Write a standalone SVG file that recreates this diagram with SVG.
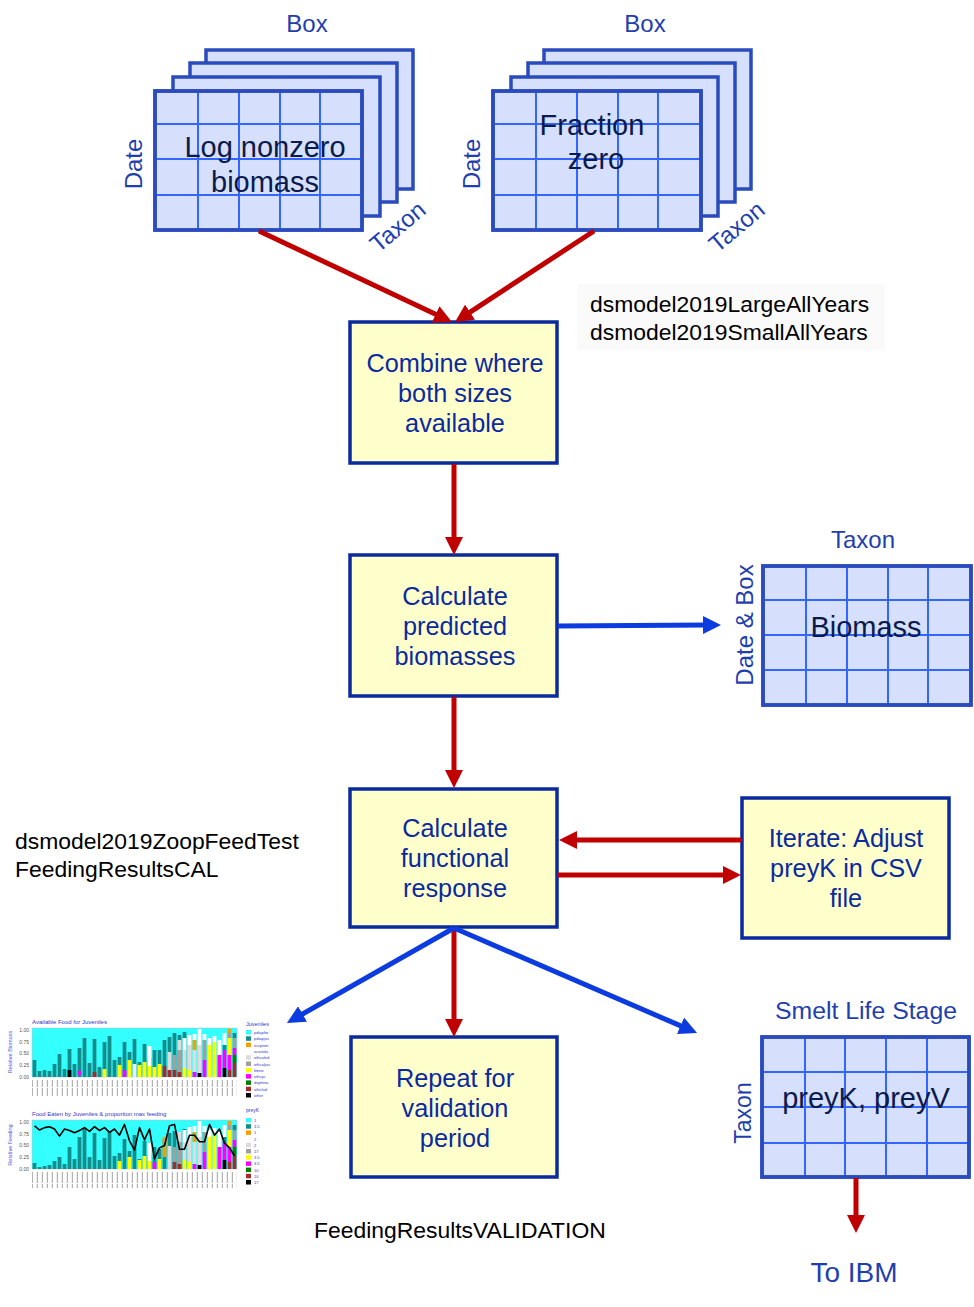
<svg xmlns="http://www.w3.org/2000/svg" width="974" height="1307" viewBox="0 0 974 1307">
<style>
text{font-family:"Liberation Sans",Arial,sans-serif}
.sheet{fill:#d6dffb;stroke:#2a4bbd;stroke-width:3.5}
.grid{stroke:#3366ff;stroke-width:2;fill:none}
.proc{fill:#ffffcc;stroke:#0a2a9e;stroke-width:3.5}
.ptxt{font-size:25.3px;fill:#0a2a9e;text-anchor:middle}
.lbl{font-size:24px;fill:#1f3fae;text-anchor:middle}
.gtxt{font-size:29px;fill:#0b1a4d;text-anchor:middle}
.note{font-size:22.9px;fill:#000}
.red{stroke:#c00000;stroke-width:5;fill:none;marker-end:url(#ar)}
.blue{stroke:#0c3ce0;stroke-width:5;fill:none;marker-end:url(#ab)}
.tk{font-size:5px;fill:#555;text-anchor:end}
.lg{font-size:4px;fill:#3333cc}
.ct{font-size:6px;fill:#3333cc}
.ax{font-size:5.5px;fill:#5555dd;text-anchor:middle}
</style>
<defs>
<marker id="ar" markerUnits="userSpaceOnUse" markerWidth="18" markerHeight="18" refX="4" refY="9" orient="auto"><path d="M0,0 L18,9 L0,18 z" fill="#c00000"/></marker>
<marker id="ab" markerUnits="userSpaceOnUse" markerWidth="18" markerHeight="18" refX="4" refY="9" orient="auto"><path d="M0,0 L18,9 L0,18 z" fill="#0c3ce0"/></marker>
<pattern id="ticks" width="5" height="16" patternUnits="userSpaceOnUse"><rect x="1.8" y="0" width="1.1" height="15" fill="#aaa"/></pattern>
<g id="rstack">
<rect x="172.6" y="1070" width="3.8" height="7" fill="#a52a2a"/><rect x="172.6" y="1055" width="3.8" height="15" fill="#a0a0a0"/>
<rect x="177.6" y="1072" width="3.8" height="5" fill="#a52a2a"/><rect x="177.6" y="1050" width="3.8" height="22" fill="#a0a0a0"/><rect x="177.6" y="1040" width="3.8" height="10" fill="#dcdcdc"/>
<rect x="182.6" y="1068" width="3.8" height="9" fill="#ffff00"/><rect x="182.6" y="1050" width="3.8" height="18" fill="#dcdcdc"/><rect x="182.6" y="1038" width="3.8" height="12" fill="#fff"/>
<rect x="187.6" y="1070" width="3.8" height="7" fill="#ffff00"/><rect x="187.6" y="1045" width="3.8" height="25" fill="#dcdcdc"/><rect x="187.6" y="1035" width="3.8" height="10" fill="#fff"/>
<rect x="192.6" y="1072" width="3.8" height="5" fill="#ff00ff"/><rect x="192.6" y="1050" width="3.8" height="22" fill="#dcdcdc"/><rect x="192.6" y="1040" width="3.8" height="10" fill="#f5a000"/><rect x="192.6" y="1034" width="3.8" height="6" fill="#fff"/>
<rect x="197.6" y="1073" width="3.8" height="4" fill="#000"/><rect x="197.6" y="1045" width="3.8" height="28" fill="#dcdcdc"/><rect x="197.6" y="1029" width="3.8" height="16" fill="#fff"/>
<rect x="202.6" y="1060" width="3.8" height="17" fill="#ff00ff"/><rect x="202.6" y="1040" width="3.8" height="20" fill="#a0a0a0"/><rect x="202.6" y="1034" width="3.8" height="6" fill="#fff"/>
<rect x="207.6" y="1045" width="3.8" height="32" fill="#ffff00"/><rect x="207.6" y="1038" width="3.8" height="7" fill="#fff"/>
<rect x="212.6" y="1042" width="3.8" height="35" fill="#ffff00"/><rect x="212.6" y="1036" width="3.8" height="6" fill="#fff"/>
<rect x="217.6" y="1055" width="3.8" height="22" fill="#ff00ff"/><rect x="217.6" y="1040" width="3.8" height="15" fill="#fff"/>
<rect x="222.6" y="1068" width="3.8" height="9" fill="#000"/><rect x="222.6" y="1050" width="3.8" height="18" fill="#ff00ff"/><rect x="222.6" y="1045" width="3.8" height="5" fill="#138c8c"/><rect x="222.6" y="1033" width="3.8" height="12" fill="#fff"/>
<rect x="227.6" y="1070" width="3.8" height="7" fill="#a52a2a"/><rect x="227.6" y="1055" width="3.8" height="15" fill="#ff00ff"/><rect x="227.6" y="1038" width="3.8" height="17" fill="#ffff00"/><rect x="227.6" y="1033" width="3.8" height="5" fill="#a0a0a0"/><rect x="227.6" y="1029" width="3.8" height="4" fill="#f5a000"/>
<rect x="232.6" y="1063" width="3.8" height="14" fill="#a52a2a"/><rect x="232.6" y="1055" width="3.8" height="8" fill="#008000"/><rect x="232.6" y="1048" width="3.8" height="7" fill="#ff00ff"/><rect x="232.6" y="1038" width="3.8" height="10" fill="#a0a0a0"/><rect x="232.6" y="1033" width="3.8" height="5" fill="#138c8c"/>
</g>
</defs>
<rect width="974" height="1307" fill="#fff"/>

<g id="stack-log">
<text class="lbl" x="307" y="32">Box</text>
<rect class="sheet" x="206" y="50" width="207" height="139"/>
<rect class="sheet" x="190" y="63" width="207" height="139"/>
<rect class="sheet" x="173" y="77" width="207" height="139"/>
<rect class="sheet" x="155" y="91" width="207" height="139"/>
<path class="grid" d="M198,92V229M239,92V229M280,92V229M320,92V229M156,124H361M156,159H361M156,195H361"/>
<rect x="155" y="91" width="207" height="139" fill="none" stroke="#2a4bbd" stroke-width="3.5"/>
<text class="lbl" transform="translate(142,164) rotate(-90)">Date</text>
<text class="lbl" transform="translate(403,233) rotate(-40)">Taxon</text>
<text class="gtxt" x="265" y="157">Log nonzero</text>
<text class="gtxt" x="265" y="192">biomass</text>
</g>

<g id="stack-frac">
<text class="lbl" x="645" y="32">Box</text>
<rect class="sheet" x="544" y="50" width="207" height="139"/>
<rect class="sheet" x="528" y="63" width="207" height="139"/>
<rect class="sheet" x="511" y="77" width="207" height="139"/>
<rect class="sheet" x="493" y="91" width="208" height="139"/>
<path class="grid" d="M536,92V229M577,92V229M618,92V229M658,92V229M494,124H700M494,159H700M494,195H700"/>
<rect x="493" y="91" width="208" height="139" fill="none" stroke="#2a4bbd" stroke-width="3.5"/>
<text class="lbl" transform="translate(480,164) rotate(-90)">Date</text>
<text class="lbl" transform="translate(742,233) rotate(-40)">Taxon</text>
<text class="gtxt" x="592" y="135">Fraction</text>
<text class="gtxt" x="596" y="169">zero</text>
</g>

<g id="note-allyears">
<rect x="577" y="284" width="308" height="66" fill="#fafafa"/>
<text class="note" x="590" y="312">dsmodel2019LargeAllYears</text>
<text class="note" x="590" y="340">dsmodel2019SmallAllYears</text>
</g>

<g id="combine">
<rect class="proc" x="350" y="322" width="207" height="141"/>
<text class="ptxt" x="455" y="372">Combine where</text>
<text class="ptxt" x="455" y="402">both sizes</text>
<text class="ptxt" x="455" y="432">available</text>
</g>

<g id="predicted">
<rect class="proc" x="350" y="555" width="207" height="141"/>
<text class="ptxt" x="455" y="605">Calculate</text>
<text class="ptxt" x="455" y="635">predicted</text>
<text class="ptxt" x="455" y="665">biomasses</text>
</g>

<g id="biomass-grid">
<text class="lbl" x="863" y="548">Taxon</text>
<rect class="sheet" x="763" y="566" width="208" height="139"/>
<path class="grid" d="M806,567V704M847,567V704M888,567V704M928,567V704M764,600H970M764,635H970M764,670H970"/>
<rect x="763" y="566" width="208" height="139" fill="none" stroke="#2a4bbd" stroke-width="3.5"/>
<text class="lbl" transform="translate(753,625) rotate(-90)">Date &amp; Box</text>
<text class="gtxt" x="866" y="637">Biomass</text>
</g>

<g id="functional">
<rect class="proc" x="350" y="789" width="207" height="138"/>
<text class="ptxt" x="455" y="837">Calculate</text>
<text class="ptxt" x="455" y="867">functional</text>
<text class="ptxt" x="455" y="897">response</text>
</g>

<g id="note-zoopfeed">
<text class="note" x="15" y="849">dsmodel2019ZoopFeedTest</text>
<text class="note" x="15" y="877">FeedingResultsCAL</text>
</g>

<g id="iterate">
<rect class="proc" x="742" y="798" width="207" height="140"/>
<text class="ptxt" x="846" y="847">Iterate: Adjust</text>
<text class="ptxt" x="846" y="877">preyK in CSV</text>
<text class="ptxt" x="846" y="907">file</text>
</g>

<g id="repeat">
<rect class="proc" x="351" y="1037" width="206" height="140"/>
<text class="ptxt" x="455" y="1087">Repeat for</text>
<text class="ptxt" x="455" y="1117">validation</text>
<text class="ptxt" x="455" y="1147">period</text>
</g>

<g id="note-validation">
<text class="note" x="314" y="1238">FeedingResultsVALIDATION</text>
</g>

<g id="prey-grid">
<text class="lbl" x="866" y="1019" style="font-size:24.8px">Smelt Life Stage</text>
<rect class="sheet" x="762" y="1037" width="207" height="140"/>
<path class="grid" d="M805,1038V1176M845,1038V1176M886,1038V1176M927,1038V1176M763,1072H968M763,1107H968M763,1143H968"/>
<rect x="762" y="1037" width="207" height="140" fill="none" stroke="#2a4bbd" stroke-width="3.5"/>
<text class="lbl" transform="translate(751,1113) rotate(-90)" style="font-size:23px">Taxon</text>
<text class="gtxt" x="866" y="1108">preyK, preyV</text>
</g>

<g id="to-ibm">
<text class="lbl" x="854" y="1282" style="font-size:28px">To IBM</text>
</g>

<g id="charts">
<text class="ct" x="32" y="1024">Available Food for Juveniles</text>
<rect x="32" y="1028" width="205" height="49" fill="#33ffff" stroke="#bbb" stroke-width="0.5"/>
<g fill="#138c8c">
<rect x="32.6" y="1060" width="3.8" height="17"/><rect x="37.6" y="1071" width="3.8" height="6"/><rect x="42.6" y="1070" width="3.8" height="7"/><rect x="47.6" y="1071" width="3.8" height="6"/><rect x="52.6" y="1064" width="3.8" height="13"/><rect x="57.6" y="1054" width="3.8" height="23"/><rect x="62.6" y="1069" width="3.8" height="8"/><rect x="67.6" y="1049" width="3.8" height="28"/><rect x="72.6" y="1064" width="3.8" height="13"/><rect x="77.6" y="1048" width="3.8" height="29"/><rect x="82.6" y="1038" width="3.8" height="39"/><rect x="87.6" y="1063" width="3.8" height="14"/><rect x="92.6" y="1039" width="3.8" height="38"/><rect x="97.6" y="1067" width="3.8" height="10"/><rect x="102.6" y="1042" width="3.8" height="35"/><rect x="107.6" y="1036" width="3.8" height="41"/><rect x="112.6" y="1060" width="3.8" height="17"/><rect x="117.6" y="1057" width="3.8" height="20"/><rect x="122.6" y="1042" width="3.8" height="35"/><rect x="127.6" y="1052" width="3.8" height="25"/><rect x="132.6" y="1039" width="3.8" height="38"/><rect x="137.6" y="1062" width="3.8" height="15"/><rect x="142.6" y="1044" width="3.8" height="33"/><rect x="147.6" y="1058" width="3.8" height="19"/><rect x="152.6" y="1050" width="3.8" height="27"/><rect x="157.6" y="1050" width="3.8" height="27"/><rect x="162.6" y="1040" width="3.8" height="37"/><rect x="167.6" y="1037" width="3.8" height="40"/><rect x="172.6" y="1033" width="3.8" height="44"/><rect x="177.6" y="1035" width="3.8" height="42"/><rect x="182.6" y="1032" width="3.8" height="45"/>
</g>
<g>
<rect x="67.6" y="1070" width="3.8" height="7" fill="#000"/><rect x="77.6" y="1071" width="3.8" height="4" fill="#ff00ff"/><rect x="92.6" y="1072" width="3.8" height="5" fill="#a52a2a"/><rect x="102.6" y="1069" width="3.8" height="8" fill="#ffff00"/>
<rect x="117.6" y="1065" width="3.8" height="12" fill="#ffff00"/><rect x="122.6" y="1070" width="3.8" height="7" fill="#ff00ff"/><rect x="127.6" y="1060" width="3.8" height="17" fill="#ffff00"/><rect x="132.6" y="1064" width="3.8" height="13" fill="#eeeeee"/><rect x="137.6" y="1065" width="3.8" height="12" fill="#ffff00"/><rect x="142.6" y="1062" width="3.8" height="15" fill="#ffff00"/><rect x="147.6" y="1046" width="3.8" height="20" fill="#fff"/><rect x="147.6" y="1066" width="3.8" height="11" fill="#ffff00"/>
<rect x="152.6" y="1067" width="3.8" height="10" fill="#ffff00"/><rect x="157.6" y="1064" width="3.8" height="13" fill="#ffff00"/><rect x="162.6" y="1066" width="3.8" height="11" fill="#a52a2a"/><rect x="167.6" y="1052" width="3.8" height="25" fill="#dcdcdc"/><rect x="167.6" y="1070" width="3.8" height="7" fill="#a52a2a"/>
</g>
<use href="#rstack"/>
<rect x="32" y="1080" width="205" height="16" fill="url(#ticks)"/>
<text class="tk" x="29" y="1032">1.00</text><text class="tk" x="29" y="1044">0.75</text><text class="tk" x="29" y="1055">0.50</text><text class="tk" x="29" y="1067">0.25</text><text class="tk" x="29" y="1079">0.00</text>
<text class="ax" transform="translate(12,1052) rotate(-90)">Relative Biomass</text>
<text class="lg" x="246" y="1026" style="font-size:5.5px">Juveniles</text>
<g>
<rect x="246" y="1030" width="5" height="4.5" fill="#33ffff"/><text class="lg" x="254" y="1034">pdiapfor</text>
<rect x="246" y="1036.3" width="5" height="4.5" fill="#138c8c"/><text class="lg" x="254" y="1040.3">pdiapjuv</text>
<rect x="246" y="1042.6" width="5" height="4.5" fill="#f5a000"/><text class="lg" x="254" y="1046.6">eurytem</text>
<rect x="246" y="1048.9" width="5" height="4.5" fill="#fff"/><text class="lg" x="254" y="1052.9">acartela</text>
<rect x="246" y="1055.2" width="5" height="4.5" fill="#dcdcdc"/><text class="lg" x="254" y="1059.2">othcaled</text>
<rect x="246" y="1061.5" width="5" height="4.5" fill="#a0a0a0"/><text class="lg" x="254" y="1065.5">othcaljuv</text>
<rect x="246" y="1067.8" width="5" height="4.5" fill="#ffff00"/><text class="lg" x="254" y="1071.8">limno</text>
<rect x="246" y="1074.1" width="5" height="4.5" fill="#ff00ff"/><text class="lg" x="254" y="1078.1">othcyc</text>
<rect x="246" y="1080.4" width="5" height="4.5" fill="#008000"/><text class="lg" x="254" y="1084.4">daphnia</text>
<rect x="246" y="1086.7" width="5" height="4.5" fill="#a52a2a"/><text class="lg" x="254" y="1090.7">othclad</text>
<rect x="246" y="1093" width="5" height="4.5" fill="#000"/><text class="lg" x="254" y="1097">other</text>
</g>

<text class="ct" x="32" y="1116">Food Eaten by Juveniles  &amp; proportion max feeding</text>
<rect x="32" y="1120" width="205" height="49" fill="#33ffff" stroke="#bbb" stroke-width="0.5"/>
<g fill="#138c8c">
<rect x="32.6" y="1163" width="3.8" height="6"/><rect x="37.6" y="1167" width="3.8" height="2"/><rect x="42.6" y="1166" width="3.8" height="3"/><rect x="47.6" y="1165" width="3.8" height="4"/><rect x="52.6" y="1161" width="3.8" height="8"/><rect x="57.6" y="1157" width="3.8" height="12"/><rect x="62.6" y="1164" width="3.8" height="5"/><rect x="67.6" y="1147" width="3.8" height="22"/><rect x="72.6" y="1159" width="3.8" height="10"/><rect x="77.6" y="1137" width="3.8" height="32"/><rect x="82.6" y="1129" width="3.8" height="40"/><rect x="87.6" y="1157" width="3.8" height="12"/><rect x="92.6" y="1133" width="3.8" height="36"/><rect x="97.6" y="1160" width="3.8" height="9"/><rect x="102.6" y="1138" width="3.8" height="31"/><rect x="107.6" y="1131" width="3.8" height="38"/><rect x="112.6" y="1156" width="3.8" height="13"/><rect x="117.6" y="1153" width="3.8" height="16"/><rect x="122.6" y="1139" width="3.8" height="30"/><rect x="127.6" y="1151" width="3.8" height="18"/><rect x="132.6" y="1135" width="3.8" height="34"/><rect x="137.6" y="1159" width="3.8" height="10"/><rect x="142.6" y="1141" width="3.8" height="28"/><rect x="147.6" y="1155" width="3.8" height="14"/><rect x="152.6" y="1147" width="3.8" height="22"/><rect x="157.6" y="1149" width="3.8" height="20"/><rect x="162.6" y="1139" width="3.8" height="30"/><rect x="167.6" y="1133" width="3.8" height="36"/><rect x="172.6" y="1131" width="3.8" height="38"/><rect x="177.6" y="1133" width="3.8" height="36"/><rect x="182.6" y="1129" width="3.8" height="40"/>
</g>
<g>
<rect x="117.6" y="1161" width="3.8" height="8" fill="#ffff00"/><rect x="127.6" y="1157" width="3.8" height="12" fill="#ffff00"/><rect x="137.6" y="1160" width="3.8" height="9" fill="#ffff00"/><rect x="142.6" y="1156" width="3.8" height="13" fill="#ffff00"/><rect x="147.6" y="1143" width="3.8" height="18" fill="#fff"/><rect x="147.6" y="1161" width="3.8" height="8" fill="#ffff00"/><rect x="152.6" y="1162" width="3.8" height="7" fill="#ff00ff"/><rect x="157.6" y="1159" width="3.8" height="10" fill="#ffff00"/><rect x="162.6" y="1137" width="3.8" height="20" fill="#f5a000"/><rect x="167.6" y="1146" width="3.8" height="23" fill="#dcdcdc"/>
</g>
<use href="#rstack" transform="translate(0,92)"/>
<polyline fill="none" stroke="#000" stroke-width="1.6" stroke-linejoin="round" points="34.5,1125.8 39.5,1130 44.5,1127.6 49.5,1126.7 54.5,1129 59.5,1136.1 64.5,1129 69.5,1130.5 74.5,1132.8 79.5,1130.5 84.5,1127.6 89.5,1131.4 94.5,1126.7 99.5,1130.5 104.5,1127.6 109.5,1132.3 114.5,1129 119.5,1135.2 124.5,1124.4 129.5,1140.8 134.5,1150.2 139.5,1127.6 144.5,1139.9 149.5,1129 154.5,1158.7 159.5,1147.9 164.5,1145.5 169.5,1125.8 174.5,1124.4 179.5,1149.3 184.5,1149.3 189.5,1135.2 194.5,1135.2 199.5,1141.7 204.5,1141.7 209.5,1124.4 214.5,1135.2 219.5,1129 224.5,1143.2 229.5,1147.9 234.5,1155.8"/>
<rect x="32" y="1172" width="205" height="16" fill="url(#ticks)"/>
<text class="tk" x="29" y="1124">1.00</text><text class="tk" x="29" y="1136">0.75</text><text class="tk" x="29" y="1147">0.50</text><text class="tk" x="29" y="1159">0.25</text><text class="tk" x="29" y="1171">0.00</text>
<text class="ax" transform="translate(12,1145) rotate(-90)">Relative Feeding</text>
<text class="lg" x="246" y="1112" style="font-size:5px">preyK</text>
<g>
<rect x="246" y="1118" width="5" height="4.5" fill="#33ffff"/><text class="lg" x="254" y="1122">1</text>
<rect x="246" y="1124.2" width="5" height="4.5" fill="#138c8c"/><text class="lg" x="254" y="1128.2">3.5</text>
<rect x="246" y="1130.4" width="5" height="4.5" fill="#f5a000"/><text class="lg" x="254" y="1134.4">1</text>
<rect x="246" y="1136.6" width="5" height="4.5" fill="#fff"/><text class="lg" x="254" y="1140.6">2</text>
<rect x="246" y="1142.8" width="5" height="4.5" fill="#dcdcdc"/><text class="lg" x="254" y="1146.8">2</text>
<rect x="246" y="1149" width="5" height="4.5" fill="#a0a0a0"/><text class="lg" x="254" y="1153">17</text>
<rect x="246" y="1155.2" width="5" height="4.5" fill="#ffff00"/><text class="lg" x="254" y="1159.2">3.5</text>
<rect x="246" y="1161.4" width="5" height="4.5" fill="#ff00ff"/><text class="lg" x="254" y="1165.4">3.5</text>
<rect x="246" y="1167.6" width="5" height="4.5" fill="#008000"/><text class="lg" x="254" y="1171.6">10</text>
<rect x="246" y="1173.8" width="5" height="4.5" fill="#a52a2a"/><text class="lg" x="254" y="1177.8">10</text>
<rect x="246" y="1180" width="5" height="4.5" fill="#000"/><text class="lg" x="254" y="1184">17</text>
</g>
</g>

<g id="connectors">
<line class="red" x1="259" y1="231" x2="439.3" y2="316"/>
<line class="red" x1="594" y1="231" x2="466.7" y2="314.3"/>
<line class="red" x1="454" y1="464" x2="454" y2="541"/>
<line class="red" x1="454" y1="697" x2="454" y2="774"/>
<line class="red" x1="742" y1="840" x2="573" y2="840"/>
<line class="red" x1="557" y1="875" x2="727" y2="875"/>
<line class="red" x1="454" y1="928" x2="454" y2="1023"/>
<line class="red" x1="856" y1="1178" x2="856" y2="1219"/>
<line class="blue" x1="558" y1="626" x2="707" y2="625"/>
<line class="blue" x1="454" y1="928" x2="299.1" y2="1016"/>
<line class="blue" x1="454" y1="928" x2="684.2" y2="1027.4"/>
</g>
</svg>
